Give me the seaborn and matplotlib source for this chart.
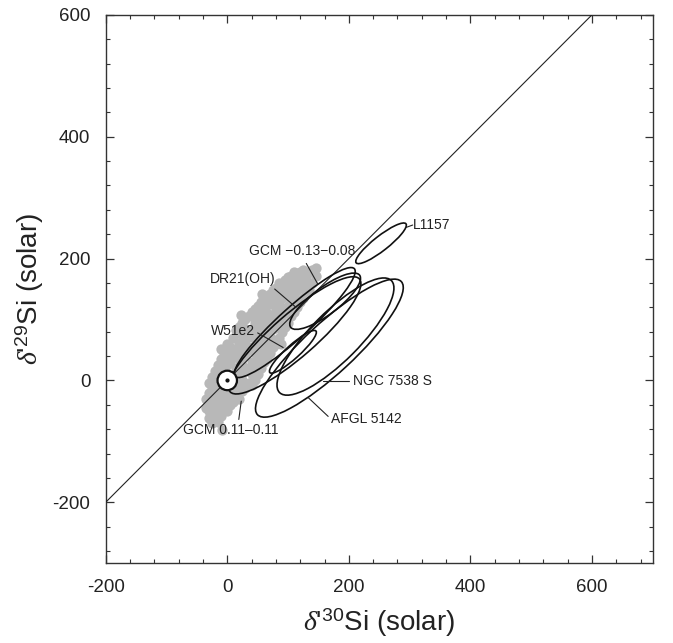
import numpy as np
import pandas as pd
import matplotlib
matplotlib.use("Agg")
import matplotlib.pyplot as plt
from matplotlib.patches import Ellipse, Circle
from matplotlib.ticker import MultipleLocator
import seaborn as sns

# Presolar mainstream SiC grains (delta 30Si, delta 29Si, permil vs solar)
grain_d30 = [-35, -35, -30, -30, -30, -30, -25, -25, -25, -25, -20, -20, -20,
             -15, -15, -15, -15, -15, -10, -10, -10, -10, -10, -10, -5, -5, -5, -5,
             0, 0, 0, 0, 0, 5, 5, 5, 5, 10, 10, 10, 10, 10, 15, 15, 15, 15, 15,
             20, 20, 20, 20, 20, 20, 25, 25, 25, 25, 25, 25, 30, 30, 30, 30, 30, 30,
             35, 35, 35, 35, 35, 40, 40, 40, 40, 40, 40, 45, 45, 45, 45, 45, 45,
             50, 50, 50, 50, 50, 50, 55, 55, 55, 55, 55, 55, 60, 60, 60, 60, 60, 60,
             65, 65, 65, 65, 65, 70, 70, 70, 70, 70, 75, 75, 75, 75, 75,
             80, 80, 80, 80, 80, 85, 85, 85, 85, 85, 90, 90, 90, 90,
             95, 95, 95, 95, 100, 100, 100, 100, 105, 105, 105, 105,
             110, 110, 110, 110, 115, 115, 115, 120, 120, 120, 125, 125, 125,
             130, 130, 135, 135, 140, 140, 146, 146, -8, 22, 57, 88]
grain_d29 = [-45, -30, -62, -50, -20, -5, -70, -40, -10, 5, -55, -30, 15,
             -68, -45, -20, 0, 25, -58, -35, -10, 10, 35, 52, -45, -25, 20, 42,
             -50, -32, 25, 50, 60, -40, -20, 30, 55, -35, -15, 5, 40, 70, -25, -5, 20, 50, 82,
             -30, -10, 10, 35, 62, 88, -18, 0, 25, 48, 75, 95, -12, 15, 40, 60, 85, 100,
             -5, 20, 50, 72, 105, -8, 10, 30, 55, 85, 112, 0, 25, 45, 70, 95, 118,
             10, 35, 60, 80, 105, 122, 20, 45, 70, 92, 115, 128, 30, 55, 80, 100, 120, 135,
             35, 65, 90, 110, 138, 45, 72, 100, 125, 142, 55, 85, 108, 130, 148,
             60, 90, 115, 140, 152, 70, 98, 125, 150, 160, 80, 108, 135, 158,
             88, 115, 142, 165, 95, 122, 150, 170, 105, 130, 158, 172,
             112, 140, 165, 178, 120, 148, 172, 128, 155, 178, 135, 162, 182,
             145, 170, 150, 178, 160, 182, 185, 172, -82, 108, 142, 60]

# Molecular-cloud measurements drawn as error ellipses
cloud_names = ["L1157", "GCM \u22120.13\u22120.08", "DR21(OH)", "W51e2",
               "GCM 0.11\u20130.11", "NGC 7538 S", "AFGL 5142"]
cloud_d30 = [253, 161, 111, 108, 111, 178, 168]
cloud_d29 = [225, 130, 95, 47, 74, 72, 53]
cloud_width = [104, 142, 264, 102, 282, 260, 322]
cloud_height = [24, 44, 50, 22, 70, 80, 82]
cloud_angle = [38, 37, 42, 42, 41, 45, 42.7]

# Label anchor (text position) and leader line end-points
label_x = [305, 123, 26, 10, -73, 207, 171]
label_y = [255, 213, 166, 81, -81, -1, -64]
label_ha = ["left", "center", "center", "center", "left", "left", "left"]
leader_x0 = [294, 130, 78, 50, 19, 157, 133]
leader_y0 = [251, 192, 150, 78, -64, -1, -28]
leader_x1 = [305, 149, 113, 92, 23, 201, 166]
leader_y1 = [255, 158, 120, 54, -34, -1, -59]

# Solar reference point
solar_d30 = [0]
solar_d29 = [0]

sns.set_style("ticks")
plt.rcParams["font.family"] = ["Liberation Sans", "DejaVu Sans"]
plt.rcParams["axes.unicode_minus"] = False
plt.rcParams["mathtext.fontset"] = "custom"
plt.rcParams["mathtext.rm"] = "Liberation Sans"
plt.rcParams["mathtext.it"] = "Liberation Serif:italic"

fig = plt.figure(figsize=(6.73, 6.43), dpi=100)
ax = fig.add_axes([0.157, 0.124, 0.813, 0.853])

grains = pd.DataFrame({"d30": grain_d30, "d29": grain_d29})
sns.scatterplot(data=grains, x="d30", y="d29", ax=ax, color="#b8b8b8",
                s=55, linewidth=0, zorder=2, legend=False)

# Slope-one line (mass-dependent fractionation through solar)
ax.axline((0, 0), slope=1, color="#222222", lw=0.8, zorder=3)

for cx, cy, w, h, a in zip(cloud_d30, cloud_d29, cloud_width, cloud_height, cloud_angle):
    ax.add_patch(Ellipse((cx, cy), w, h, angle=a, fill=False,
                         edgecolor="#111111", lw=1.2, zorder=4))

ax.add_patch(Circle((solar_d30[0], solar_d29[0]), 16, facecolor="white",
                    edgecolor="#111111", lw=1.6, zorder=5))
ax.plot(solar_d30, solar_d29, "o", color="#111111", ms=2, zorder=6)

for name, tx, ty, ha, x0, y0, x1, y1 in zip(cloud_names, label_x, label_y, label_ha,
                                             leader_x0, leader_y0, leader_x1, leader_y1):
    ax.plot([x0, x1], [y0, y1], color="#222222", lw=0.8, zorder=4)
    ax.text(tx, ty, name, ha=ha, va="center", fontsize=10, color="#222222", zorder=6)

ax.set_xlim(-200, 700)
ax.set_ylim(-300, 600)
ax.xaxis.set_minor_locator(MultipleLocator(40))
ax.yaxis.set_minor_locator(MultipleLocator(40))
ax.set_xticks([-200, 0, 200, 400, 600])
ax.set_yticks([-200, 0, 200, 400, 600])
ax.tick_params(which="both", direction="in", top=True, right=True,
               color="#333333", labelsize=13.5, labelcolor="#222222")
ax.tick_params(which="major", length=6, width=0.9, pad=11)
ax.tick_params(which="minor", length=3.2, width=0.8)
for sp in ax.spines.values():
    sp.set_linewidth(1.0)
    sp.set_color("#333333")

ax.set_xlabel(r"$\delta$'$^{30}$Si (solar)", fontsize=20, color="#222222", labelpad=8)
ax.set_ylabel(r"$\delta$'$^{29}$Si (solar)", fontsize=20, color="#222222", labelpad=5)

fig.savefig("out.png", dpi=100, facecolor="white")
